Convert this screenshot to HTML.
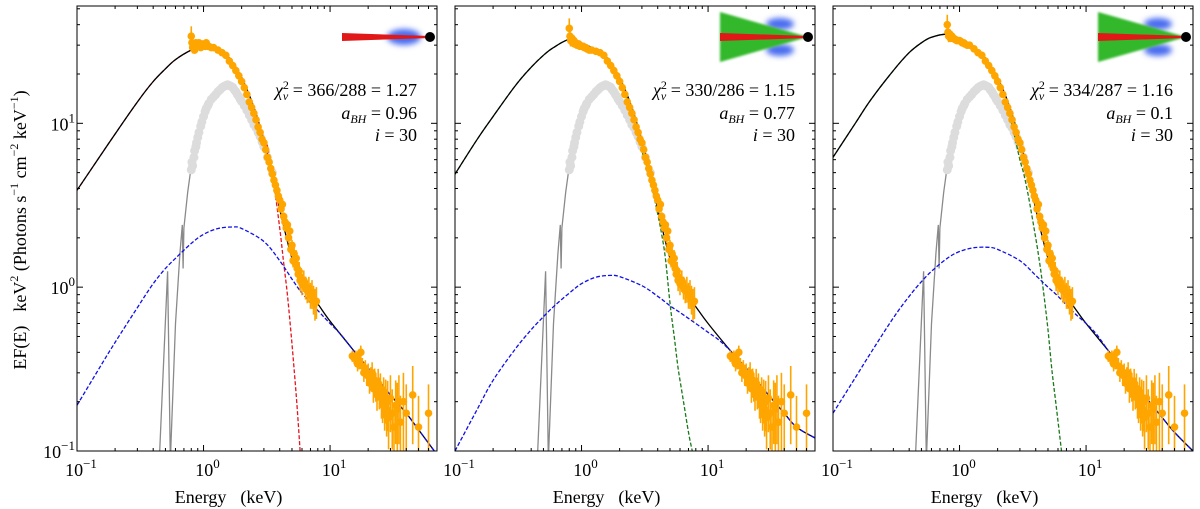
<!DOCTYPE html>
<html><head><meta charset="utf-8">
<style>
html,body{margin:0;padding:0;background:#fff;}
svg{display:block;font-family:"Liberation Serif",serif;}
</style></head>
<body>
<svg id="chart" width="1200" height="509" viewBox="0 0 1200 509" xmlns="http://www.w3.org/2000/svg">
<defs>
<filter id="blur3" x="-50%" y="-50%" width="200%" height="200%"><feGaussianBlur stdDeviation="3"/></filter>
<filter id="blur1" x="-20%" y="-20%" width="140%" height="140%"><feGaussianBlur stdDeviation="1"/></filter>
</defs>
</svg>
<script>
// ---------- data ----------
const modelE = [0.1,0.15,0.2,0.3,0.4,0.5,0.6,0.8,1,1.3,1.6,2,2.5,3,3.5,4,5,6,7,8,10,15,20,30,40,50,70];
const total1 = [3.9,6.2,8.6,13.5,18,21.5,24.5,28,29.5,28,25,19,12.5,7.8,5.0,3.0,1.5,1.1,0.9,0.79,0.62,0.42,0.32,0.22,0.17,0.135,0.095];
const total2 = [4.9,8,11,17,22,26,29,32.5,31,28,25,19,12.5,7.8,5.0,3.0,1.5,1.1,0.88,0.76,0.6,0.41,0.32,0.22,0.17,0.14,0.12];
const total3 = [6.2,10,14,21,27,31,33.5,35,33,29,25,19,12.5,7.8,5.0,3.0,1.5,1.1,0.88,0.76,0.6,0.41,0.31,0.21,0.16,0.13,0.1];
const diskE = [0.1,0.15,0.2,0.3,0.4,0.5,0.6,0.8,1,1.3,1.6,2,2.5,3,3.2,3.5,4,4.3,4.6,5,5.4,5.8,6.4,7,7.5];
const disk1 = [3.9,6.2,8.6,13.5,18,21.5,24.5,28,29.5,28,25,19,12.5,8.0,7.2,5.0,2.3,1.4,0.9,0.45,0.22,0.1,null,null,null];
const disk2 = [4.9,8,11,17,22,26,29,32.5,31,28,25,18.5,11.8,6.8,5.8,4.5,2.8,2.1,1.5,0.8,0.5,0.32,0.2,0.13,0.1];
const disk3 = [6.2,10,14,21,27,31,33.5,35,33,29,25,18.5,11,6.0,5.0,3.6,2.0,1.4,0.95,0.55,0.3,0.19,0.1,null,null];
const comptE = [0.1,0.15,0.2,0.3,0.4,0.5,0.6,0.8,1,1.3,1.7,2,3,4,5,6,8,10,12,15,20,30,40,50,70];
const compt1 = [0.19,0.32,0.46,0.75,1.05,1.3,1.5,1.85,2.1,2.28,2.33,2.28,1.9,1.45,1.12,0.92,0.72,0.6,0.52,0.42,0.32,0.22,0.17,0.135,0.095];
const compt2 = [0.1,0.18,0.27,0.42,0.55,0.66,0.76,0.92,1.05,1.15,1.18,1.16,1.02,0.88,0.77,0.7,0.6,0.53,0.48,0.41,0.32,0.22,0.17,0.14,0.12];
const compt3 = [0.17,0.28,0.4,0.65,0.88,1.08,1.25,1.5,1.65,1.74,1.75,1.7,1.45,1.18,1.0,0.88,0.7,0.6,0.52,0.41,0.31,0.21,0.16,0.13,0.1];
const absE = [0.45,0.52,0.545,null,0.55,0.6,0.65,0.68,0.69,0.7,0.75,0.8];
const absF = [0.1,1.25,0.1,null,0.1,0.6,1.6,2.4,1.3,2.3,3.8,5.5];
const grayE = [0.8,0.81,0.82,0.84,0.85,0.87,0.88,0.9,0.92,0.95,0.97,1.0,1.03,1.05,1.08,1.1,1.15,1.2,1.25,1.3,1.35,1.4,1.45,1.5,1.55,1.6,1.65,1.7,1.75,1.8,1.85,1.9,1.95,2.0,2.1,2.2,2.3,2.4,2.5,2.6,2.7,2.8,2.9,3.0,3.2,3.5];
const grayF = [5.2,5.8,5.5,6.2,6.8,7.2,7.6,8.2,8.8,9.6,10.2,11,11.8,12.3,12.8,13.2,14,14.5,15,15.6,16,16.5,16.8,17,17.2,17,16.8,16.6,16,15.6,15,14.6,14,13.6,12.8,12,11.2,10.5,9.8,9.4,8.8,8.3,7.7,7.2,6.2,5.0];
const dataE = [0.8,0.81,0.82,0.84,0.85,0.87,0.88,0.9,0.92,0.95,0.97,1.0,1.03,1.05,1.08,1.1,1.15,1.2,1.3,1.4,1.5,1.6,1.7,1.8,1.9,2.0,2.1,2.2,2.3,2.4,2.5,2.6,2.7,2.8,2.9,3.0,3.1,3.2,3.3,3.4,3.5,3.6,3.7,3.8,3.9,4.0,4.1,4.2,4.3,4.4,4.5,4.6,4.7,4.8,4.9,5.0,5.1,5.2,5.3,5.4,5.5,5.6,5.7,5.8,5.9,6.0,6.2,6.4,6.6,6.8,7.0,7.2,7.4,7.6,7.8,
  15,15.5,16,16.5,17,17.5,18,18.5,19,19.5,20,20.5,21,21.5,22,22.5,23,23.5,24,24.5,25,25.5,26,26.5,27,27.5,28,28.5,29,30,31,32,33,34,35,36,38,40,45,50,60];
const dataLow1 = [34,31,29,30,28,31,29.5,30,31,29,30.5,30,29.5,31,29.5,29.5,29,29,28];
const dataLow2 = [38,34,32,33,31,32,30.5,31,30,30.5,29.5,29.5,29.5,29,29,28.5,28,28,27.5];
const dataLow3 = [40,36,34,35,33,34,33,33,32.5,32,32,32,31.5,31,31,30.5,30,30,28.5];
const dataTail = [27,26,24,22.5,21,19.5,18,16.5,15,13.5,12.5,11.5,10.5,9.5,8.8,8,7.6,6.9,6.2,5.8,5.3,4.9,4.5,4.2,3.9,3.6,3.4,3.0,3.2,2.7,2.5,2.3,2.4,2.0,2.2,1.7,1.8,1.45,1.6,1.4,1.5,1.3,1.2,1.25,1.1,1.15,1.05,1.1,1.0,0.95,0.98,0.9,0.92,0.85,0.8,0.82,
  0.38,0.37,0.38,0.34,0.35,0.4,0.33,0.3,0.32,0.29,0.3,0.26,0.28,0.3,0.24,0.27,0.25,0.22,0.26,0.23,0.24,0.21,0.2,0.22,0.19,0.21,0.18,0.2,0.16,0.21,0.17,0.14,0.19,0.18,0.2,0.15,0.2,0.17,0.22,0.14,0.17];
const dataErr = [0.15,0.1,0.08,0.06,0.05,0.04,0.03,0.03,0.03,0.03,0.03,0.03,0.03,0.03,0.03,0.03,0.03,0.03,0.03,0.03,0.03,0.03,0.03,0.03,0.03,0.03,0.03,0.03,0.03,0.03,0.03,0.03,0.03,0.03,0.03,0.03,0.03,0.04,0.04,0.04,0.04,0.04,0.04,0.05,0.05,0.05,0.05,0.06,0.06,0.06,0.06,0.07,0.07,0.08,0.08,0.08,0.09,0.1,0.1,0.12,0.12,0.12,0.14,0.14,0.14,0.15,0.15,0.16,0.16,0.18,0.18,0.2,0.2,0.22,0.22,
  0.08,0.08,0.08,0.1,0.1,0.1,0.12,0.12,0.12,0.14,0.14,0.14,0.16,0.16,0.18,0.18,0.2,0.2,0.22,0.22,0.24,0.25,0.26,0.28,0.3,0.3,0.32,0.34,0.36,0.38,0.4,0.4,0.42,0.45,0.45,0.45,0.5,0.5,0.5,0.55,0.5];
const panelLabels = [["366/288 = 1.27","0.96"],["330/286 = 1.15","0.77"],["334/287 = 1.16","0.1"]];
const xTicks = [-1,0,1];
const yTicks = [-1,0,1];

// ---------- layout ----------
const svg = document.getElementById('chart');
const NS = 'http://www.w3.org/2000/svg';
const panelLeft = [77,455,833];
const PW = 360, TOP = 6, BOT = 451;
const XMIN = -1, XMAX = Math.log10(70), YMIN = -1, YMAX = Math.log10(52);
function mk(tag, attrs, parent){ const e=document.createElementNS(NS,tag); for(const k in attrs) e.setAttribute(k,attrs[k]); (parent||svg).appendChild(e); return e; }
function xs(p,E){ return panelLeft[p] + (Math.log10(E)-XMIN)/(XMAX-XMIN)*PW; }
function ys(F){ return BOT - (Math.log10(F)-YMIN)/(YMAX-YMIN)*(BOT-TOP); }
function pathFrom(p,E,F,smooth){
  let d='', seg=[];
  const flush=()=>{ if(!seg.length) return;
    d+='M'+seg[0][0].toFixed(1)+','+seg[0][1].toFixed(1);
    for(let i=0;i<seg.length-1;i++){
      const p0=seg[Math.max(i-1,0)],p1=seg[i],p2=seg[i+1],p3=seg[Math.min(i+2,seg.length-1)];
      if(smooth){
        const c1=[p1[0]+(p2[0]-p0[0])/6,p1[1]+(p2[1]-p0[1])/6], c2=[p2[0]-(p3[0]-p1[0])/6,p2[1]-(p3[1]-p1[1])/6];
        d+='C'+c1[0].toFixed(1)+','+c1[1].toFixed(1)+' '+c2[0].toFixed(1)+','+c2[1].toFixed(1)+' '+p2[0].toFixed(1)+','+p2[1].toFixed(1);
      } else d+='L'+p2[0].toFixed(1)+','+p2[1].toFixed(1);
    }
    seg=[]; };
  for(let i=0;i<E.length;i++){ if(E[i]==null||F[i]==null){flush();continue;} seg.push([xs(p,E[i]),ys(F[i])]); }
  flush(); return d;
}

const totals=[total1,total2,total3], disks=[disk1,disk2,disk3], compts=[compt1,compt2,compt3], lows=[dataLow1,dataLow2,dataLow3];
const diskColors=['#e8141c','#1a7a1a','#1a7a1a'];

for(let p=0;p<3;p++){
  const g = mk('g',{'clip-path':'url(#clip'+p+')'});
  
  
  const cp = mk('clipPath',{id:'clip'+p}, svg.querySelector('defs'));
  mk('rect',{x:panelLeft[p],y:TOP,width:PW,height:BOT-TOP},cp);

  const gray = mk('path',{d:pathFrom(p,absE,absF,false),fill:'none',stroke:'#8a8a8a','stroke-width':1.3},g);
  
  
  const gd = mk('g',{},g);
  
  
  for(let i=0;i<grayE.length;i++){
    const c = mk('circle',{cx:xs(p,grayE[i]),cy:ys(grayF[i]),r:4.5,fill:'#dcdcdc'},gd);
    
    
  }
  const dk = mk('path',{d:pathFrom(p,diskE,disks[p],true),fill:'none',stroke:diskColors[p],'stroke-width':1.3,'stroke-dasharray':'4,2'},g);
  
  
  const tot = mk('path',{d:pathFrom(p,modelE,totals[p],true),fill:'none',stroke:'#000','stroke-width':1.3},g);
  
  
  const cm = mk('path',{d:pathFrom(p,comptE,compts[p],true),fill:'none',stroke:'#1010e8','stroke-width':1.3,'stroke-dasharray':'4,2'},g);
  
  

  const od = mk('g',{},g);
  
  
  const vals = lows[p].concat(dataTail);
  for(let i=0;i<dataE.length;i++){
    const v=vals[i], e=dataErr[i];
    const x=xs(p,dataE[i]);
    const ln = mk('line',{x1:x,x2:x,y1:ys(v*(1+e)),y2:ys(Math.max(v*(1-e),0.05)),stroke:'#ffa500','stroke-width':1.6},od);
    
    
    const c = mk('circle',{cx:x,cy:ys(v),r:3.8,fill:'#ffa500'},od);
    
    
  }

  const L=panelLeft[p], R=L+PW;
  const fr = mk('rect',{x:L,y:TOP,width:PW,height:BOT-TOP,fill:'none',stroke:'#000','stroke-width':1});
  
  
  for(let dec=-1;dec<=2;dec++){
    for(let m=1;m<10;m++){
      const E=m*Math.pow(10,dec); if(Math.log10(E)<XMIN-1e-9||Math.log10(E)>XMAX) continue;
      const x=xs(p,E), len=m===1?6:3;
      mk('line',{x1:x,x2:x,y1:BOT,y2:BOT-len,stroke:'#000','stroke-width':1});
      mk('line',{x1:x,x2:x,y1:TOP,y2:TOP+len,stroke:'#000','stroke-width':1});
    }
    for(let m=1;m<10;m++){
      const F=m*Math.pow(10,dec); if(Math.log10(F)<YMIN-1e-9||Math.log10(F)>YMAX) continue;
      const y=ys(F), len=m===1?6:3;
      mk('line',{x1:L,x2:L+len,y1:y,y2:y,stroke:'#000','stroke-width':1});
      mk('line',{x1:R,x2:R-len,y1:y,y2:y,stroke:'#000','stroke-width':1});
    }
  }
  xTicks.forEach(t=>{
    const tx = mk('text',{x:xs(p,Math.pow(10,t))+4,y:476,'text-anchor':'middle','font-size':18});
    
    
    tx.innerHTML='10<tspan dy="-8" font-size="13">'+(t<0?'\u2212'+(-t):t)+'</tspan>';
  });
  if(p===0){
    yTicks.forEach(t=>{
      const ty = mk('text',{x:L-2,y:ys(Math.pow(10,t))+7,'text-anchor':'end','font-size':18});
      
      
      ty.innerHTML='10<tspan dy="-8" font-size="13">'+(t<0?'\u2212'+(-t):t)+'</tspan>';
    });
  }
  const xl = mk('text',{x:xs(p,1)+25,y:503,'text-anchor':'middle','font-size':18});
  
  
  xl.innerHTML='Energy<tspan dx="14">(keV)</tspan>';

  const ax = R-20;
  const t1 = mk('text',{x:ax,y:96,'text-anchor':'end','font-size':18});
  
  
  t1.innerHTML='<tspan font-style="italic">\u03c7</tspan><tspan dy="-7" font-size="12">2</tspan><tspan dx="-6" dy="11" font-size="12" font-style="italic">\u03bd</tspan><tspan dy="-4"> = '+panelLabels[p][0]+'</tspan>';
  const t2 = mk('text',{x:ax,y:119,'text-anchor':'end','font-size':18});
  
  
  t2.innerHTML='<tspan font-style="italic">a</tspan><tspan dy="4" font-size="12" font-style="italic">BH</tspan><tspan dy="-4"> = '+panelLabels[p][1]+'</tspan>';
  const t3 = mk('text',{x:ax,y:141,'text-anchor':'end','font-size':18});
  
  
  t3.innerHTML='<tspan font-style="italic">i</tspan> = 30';

  const ic = mk('g',{});
  
  
  const dotX = R-7, dotY = 37;
  if(p===0){
    mk('ellipse',{cx:dotX-26,cy:dotY,rx:17,ry:8,fill:'#4a6cf0',filter:'url(#blur3)'},ic);
    mk('polygon',{points:(dotX-88)+','+(dotY-4)+' '+dotX+','+(dotY-1)+' '+dotX+','+(dotY+1)+' '+(dotX-88)+','+(dotY+4),fill:'#e01818'},ic);
  } else {
    mk('ellipse',{cx:dotX-28,cy:dotY-13,rx:14,ry:6,fill:'#4a6cf0',filter:'url(#blur3)'},ic);
    mk('ellipse',{cx:dotX-28,cy:dotY+13,rx:14,ry:6,fill:'#4a6cf0',filter:'url(#blur3)'},ic);
    mk('polygon',{points:(dotX-88)+','+(dotY-25)+' '+dotX+','+dotY+' '+(dotX-88)+','+(dotY+25),fill:'#33b82a',filter:'url(#blur1)'},ic);
    mk('polygon',{points:(dotX-88)+','+(dotY-4)+' '+dotX+','+(dotY-1)+' '+dotX+','+(dotY+1)+' '+(dotX-88)+','+(dotY+4),fill:'#e01818'},ic);
  }
  mk('circle',{cx:dotX,cy:dotY,r:5,fill:'#000'},ic);
}
const yl = mk('text',{x:0,y:0,'text-anchor':'middle','font-size':18,transform:'translate(26,230) rotate(-90)'});


yl.innerHTML='EF(E)<tspan dx="14">keV</tspan><tspan dy="-8" font-size="12">2</tspan><tspan dy="8"> (Photons s</tspan><tspan dy="-8" font-size="12">\u22121</tspan><tspan dy="8"> cm</tspan><tspan dy="-8" font-size="12">\u22122</tspan><tspan dy="8"> keV</tspan><tspan dy="-8" font-size="12">\u22121</tspan><tspan dy="8">)</tspan>';
</script>
</body></html>
